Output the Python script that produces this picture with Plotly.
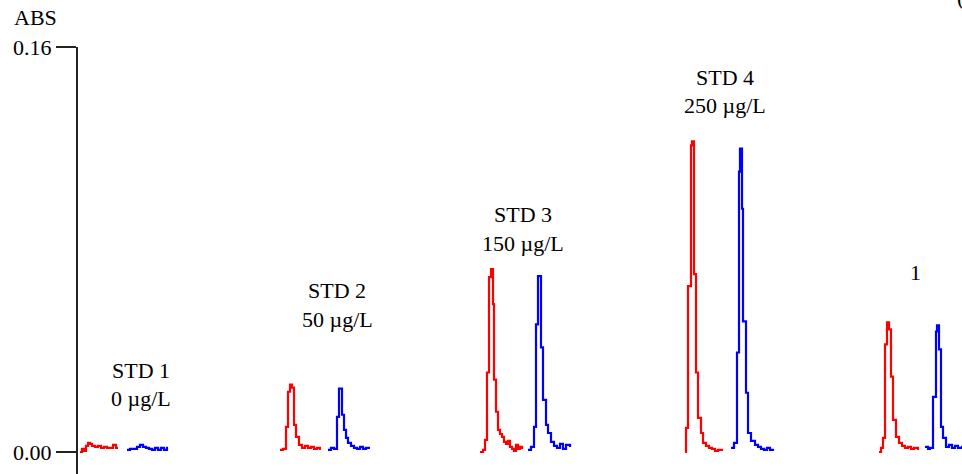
import plotly.graph_objects as go

# ---- data (time in arbitrary units, absorbance in ABS) ----
red1_t = [2, 4, 6, 8, 10, 12, 14, 17, 20, 23, 26, 29, 32, 35, 38, 40]
red1_a = [0.0, 0.0012, 0.0004, 0.0024, 0.0036, 0.0032, 0.0024, 0.0020, 0.0024, 0.0016, 0.0020, 0.0016, 0.0016, 0.0028, 0.0016, 0.0016]
blue1_t = [49, 52, 56, 59, 62, 65, 68, 71, 74, 77, 80, 83, 86, 89, 90]
blue1_a = [0.0008, 0.0012, 0.0012, 0.0020, 0.0028, 0.0020, 0.0016, 0.0012, 0.0008, 0.0016, 0.0008, 0.0016, 0.0008, 0.0016, 0.0016]

red2_t = [202, 205, 208, 210, 212, 214, 216, 218, 221, 224, 227, 230, 233, 236, 239, 242]
red2_a = [0.0008, 0.0012, 0.0099, 0.0238, 0.0266, 0.0254, 0.0107, 0.0060, 0.0028, 0.0016, 0.0024, 0.0016, 0.0020, 0.0012, 0.0016, 0.0008]
blue2_t = [250, 253, 256, 259, 261, 264, 266, 268, 270, 273, 276, 279, 282, 285, 288, 292]
blue2_a = [0.0008, 0.0016, 0.0012, 0.0139, 0.0250, 0.0147, 0.0087, 0.0056, 0.0036, 0.0024, 0.0016, 0.0012, 0.0020, 0.0012, 0.0016, 0.0016]

red3_t = [402, 405, 407, 409, 411, 413, 415, 416, 418, 420, 422, 424, 426, 428, 430, 432, 434, 436, 438, 440, 442, 444]
red3_a = [0.0, 0.0008, 0.0048, 0.0314, 0.0691, 0.0723, 0.0584, 0.0286, 0.0159, 0.0087, 0.0071, 0.0060, 0.0040, 0.0032, 0.0044, 0.0020, 0.0012, 0.0004, 0.0028, 0.0012, 0.0020, 0.0012]
blue3_t = [450, 453, 456, 458, 460, 463, 465, 468, 470, 473, 476, 479, 482, 485, 488, 492]
blue3_a = [0.0008, 0.0020, 0.0099, 0.0504, 0.0695, 0.0413, 0.0206, 0.0107, 0.0075, 0.0040, 0.0024, 0.0016, 0.0032, 0.0012, 0.0028, 0.0020]

red4_t = [607, 608, 610, 613, 614, 616, 618, 620, 623, 625, 628, 631, 634, 637, 640, 644]
red4_a = [0.0, 0.0095, 0.0655, 0.1211, 0.1227, 0.0703, 0.0314, 0.0135, 0.0075, 0.0036, 0.0024, 0.0016, 0.0012, 0.0004, 0.0008, 0.0004]
blue4_t = [653, 656, 659, 661, 662, 664, 665, 668, 670, 673, 677, 680, 683, 686, 689, 692, 695]
blue4_a = [0.0016, 0.0036, 0.0393, 0.1108, 0.1199, 0.0961, 0.0516, 0.0234, 0.0075, 0.0044, 0.0028, 0.0020, 0.0012, 0.0008, 0.0016, 0.0008, 0.0004]

red5_t = [801, 803, 805, 807, 809, 811, 813, 815, 818, 821, 824, 827, 830, 833, 836, 840]
red5_a = [0.0, 0.0016, 0.0056, 0.0425, 0.0512, 0.0484, 0.0298, 0.0127, 0.0060, 0.0036, 0.0024, 0.0016, 0.0020, 0.0012, 0.0016, 0.0008]
blue5_t = [847, 850, 852, 855, 858, 859, 861, 863, 865, 868, 871, 874, 877, 880, 884, 888]
blue5_a = [0.0020, 0.0012, 0.0016, 0.0218, 0.0476, 0.0500, 0.0405, 0.0099, 0.0056, 0.0020, 0.0028, 0.0016, 0.0024, 0.0016, 0.0020, 0.0016]

label_names = ["STD 1", "STD 2", "STD 3", "STD 4", "1"]
label_concs = ["0 µg/L", "50 µg/L", "150 µg/L", "250 µg/L", ""]

tick_values = [0.0, 0.16]
tick_labels = ["0.00", "0.16"]
y_title = "ABS"

# ---- figure ----
RED = "#ff0000"
BLUE = "#0000ff"
FONT = "Liberation Serif"
FS = 22

fig = go.Figure()
series = [
    (red1_t, red1_a, RED), (blue1_t, blue1_a, BLUE),
    (red2_t, red2_a, RED), (blue2_t, blue2_a, BLUE),
    (red3_t, red3_a, RED), (blue3_t, blue3_a, BLUE),
    (red4_t, red4_a, RED), (blue4_t, blue4_a, BLUE),
    (red5_t, red5_a, RED), (blue5_t, blue5_a, BLUE),
]
for t, a, c in series:
    fig.add_trace(go.Scatter(x=t, y=a, mode="lines",
                             line=dict(color=c, width=2.2, shape="hv"),
                             showlegend=False, hoverinfo="skip"))

# label placement (layout, in data coordinates)
label_pos = [(63, 0.0322, 0.0210), (259, 0.0639, 0.0524), (445, 0.0937, 0.0822),
             (647, 0.1481, 0.1370), (837, 0.0711, None)]
annotations = []
for name, conc, (lx, ly1, ly2) in zip(label_names, label_concs, label_pos):
    annotations.append(dict(x=lx, y=ly1, xref="x", yref="y", text=name, showarrow=False,
                            xanchor="center", yanchor="middle",
                            font=dict(family=FONT, size=FS, color="black")))
    if conc:
        annotations.append(dict(x=lx, y=ly2, xref="x", yref="y", text=conc, showarrow=False,
                                xanchor="center", yanchor="middle",
                                font=dict(family=FONT, size=FS, color="black")))

annotations.append(dict(x=-0.0747, y=1.068, xref="paper", yref="paper", text=y_title,
                        showarrow=False, xanchor="left", yanchor="middle",
                        font=dict(family=FONT, size=FS, color="black")))
annotations.append(dict(x=0.992, y=1.115, xref="paper", yref="paper", text="(",
                        showarrow=False, xanchor="left", yanchor="middle",
                        font=dict(family=FONT, size=FS, color="black")))

fig.update_layout(
    width=962, height=474,
    margin=dict(l=78, r=0, t=47, b=0, pad=0),
    paper_bgcolor="white", plot_bgcolor="white",
    font=dict(family=FONT, size=FS, color="black"),
    annotations=annotations,
    xaxis=dict(range=[0, 884], visible=False, showgrid=False, zeroline=False),
    yaxis=dict(range=[-0.0087, 0.16], showgrid=False, zeroline=False,
               showline=True, linecolor="#222222", linewidth=2,
               ticks="outside", ticklen=20, tickwidth=2, tickcolor="#222222",
               tickvals=tick_values, ticktext=tick_labels,
               tickfont=dict(family=FONT, size=FS, color="black")),
)

fig.write_html("out.html", config={"displayModeBar": False},
               post_script="document.body.style.margin='0';document.body.style.overflow='hidden';")
